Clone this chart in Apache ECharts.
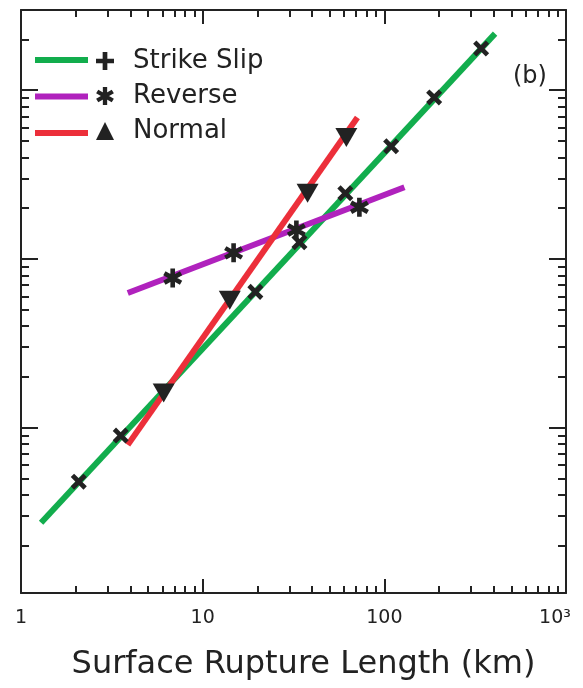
<!DOCTYPE html>
<html>
<head>
<meta charset="utf-8">
<script src="https://cdn.jsdelivr.net/npm/echarts@6/dist/echarts.min.js"></script>
<style>
  html, body { margin: 0; padding: 0; background: #fff; }
  #chart { width: 583px; height: 688px; }
</style>
</head>
<body>
<div id="chart"></div>
<script>
// points (x = surface rupture length, km; y = log units of the unlabeled axis)
const strikeSlipX = [2.08, 3.54, 19.5, 34.1, 61, 109, 188, 341];
const strikeSlipY = [4.8, 9.0, 64, 126, 246, 467, 910, 1774];
const strikeFitX = [1.29, 407];
const strikeFitY = [2.74, 2173];

const reverseX = [6.84, 14.8, 32.8, 72.9];
const reverseY = [77.3, 109, 149, 203];
const reverseFitX = [3.87, 129];
const reverseFitY = [63, 267];

const normalX = [6.1, 14.1, 37.8, 61.8];
const normalY = [16.1, 57.1, 246, 527];
const normalFitX = [3.87, 71.1];
const normalFitY = [7.93, 692];

const xLabels = { 1: '1', 10: '10', 100: '100', 1000: '{e|10³}' };
const xMin = 1, xMax = 1000;
const yMin = 1.05, yMax = 3000;

// tick positions in log10 units
function minorLogs(lo, hi) {
  const out = [];
  for (let d = Math.floor(lo); d <= Math.ceil(hi); d++) {
    for (let m = 2; m <= 9; m++) {
      const v = d + Math.log10(m);
      if (v > lo && v < hi) out.push(v);
    }
  }
  return out;
}
function majorLogs(lo, hi) {
  const out = [];
  for (let d = Math.ceil(lo); d <= Math.floor(hi); d++) {
    if (d > lo + 0.01 && d < hi - 0.01) out.push(d);
  }
  return out;
}

const lx0 = Math.log10(xMin), lx1 = Math.log10(xMax);
const ly0 = Math.log10(yMin), ly1 = Math.log10(yMax);

// y ticks in data units: [x anchor, y value, tick length]
const yTicks = [
  ...minorLogs(ly0, ly1).map(v => [xMin, Math.pow(10, v), 8]),
  ...majorLogs(ly0, ly1).map(v => [xMin, Math.pow(10, v), 17])
];

const ink = '#222';
const green = '#12ad4d';
const purple = '#b022bd';
const red = '#ec2f3a';

const plusPath = 'path://M-1.3,-5 L1.3,-5 L1.3,-1.3 L5,-1.3 L5,1.3 L1.3,1.3 L1.3,5 L-1.3,5 L-1.3,1.3 L-5,1.3 L-5,-1.3 L-1.3,-1.3 Z';
const starPath = 'path://M-1.2,-5 L1.2,-5 L1.2,5 L-1.2,5 Z M-4.93,-1.46 L-3.73,-3.54 L4.93,1.46 L3.73,3.54 Z M-3.73,3.54 L-4.93,1.46 L3.73,-3.54 L4.93,-1.46 Z';

function pairs(xs, ys) {
  return xs.map((x, i) => [x, ys[i]]);
}

function tickAxis(pos, lo, hi, values, len, showLine) {
  return {
    type: 'value',
    position: pos,
    min: lo,
    max: hi,
    axisLine: { show: !!showLine, onZero: false, lineStyle: { color: ink, width: 2 } },
    axisTick: { show: !!values, inside: true, length: len, customValues: values, lineStyle: { color: ink, width: 2 } },
    axisLabel: { show: false },
    splitLine: { show: false }
  };
}

const chart = echarts.init(document.getElementById('chart'));

chart.setOption({
  animation: false,
  backgroundColor: '#fff',
  textStyle: { fontFamily: 'DejaVu Sans' },
  title: {
    text: '(b)',
    left: 508,
    top: 60,
    textStyle: { fontSize: 24, fontWeight: 'normal', color: ink, fontFamily: 'DejaVu Sans' }
  },
  grid: { left: 21, right: 17, top: 10, bottom: 95, containLabel: false },
  legend: [
    {
      // coloured line swatches
      data: ['Strike Slip fit', 'Reverse fit', 'Normal fit'],
      orient: 'vertical',
      left: 30,
      top: 52,
      itemWidth: 53,
      itemHeight: 6,
      itemGap: 30.5,
      icon: 'rect',
      formatter: () => '',
      selectedMode: false
    },
    {
      // black markers with names
      data: [
        { name: 'Strike Slip', icon: plusPath },
        { name: 'Reverse', icon: starPath },
        { name: 'Normal', icon: 'triangle' }
      ],
      orient: 'vertical',
      left: 91,
      top: 43,
      itemWidth: 18,
      itemHeight: 18,
      itemGap: 9,
      symbolRotate: 0,
      selectedMode: false,
      textStyle: { fontSize: 26, color: ink, fontFamily: 'DejaVu Sans', padding: [0, 0, 0, 14] }
    }
  ],
  xAxis: [
    {
      type: 'log',
      logBase: 10,
      min: xMin,
      max: xMax,
      position: 'bottom',
      axisLine: { show: true, onZero: false, lineStyle: { color: ink, width: 2 } },
      axisTick: { show: false },
      splitLine: { show: false },
      axisLabel: {
        show: true,
        margin: 16,
        fontSize: 19,
        color: ink,
        fontFamily: 'DejaVu Sans',
        formatter: v => xLabels[Math.round(v)] || '',
        rich: { e: { fontSize: 19, color: ink, fontFamily: 'DejaVu Sans', padding: [0, 22, 0, 0] } }
      },
      name: 'Surface Rupture Length (km)',
      nameLocation: 'middle',
      nameGap: 56,
      nameTextStyle: { fontSize: 32, color: ink, fontFamily: 'DejaVu Sans', padding: [0, 0, 0, 20] }
    },
    tickAxis('bottom', lx0, lx1, minorLogs(lx0, lx1), 7),
    tickAxis('bottom', lx0, lx1, majorLogs(lx0, lx1), 14),
    tickAxis('top', lx0, lx1, minorLogs(lx0, lx1), 7, true),
    tickAxis('top', lx0, lx1, majorLogs(lx0, lx1), 14)
  ],
  yAxis: [
    {
      type: 'log',
      logBase: 10,
      min: yMin,
      max: yMax,
      position: 'left',
      axisLine: { show: true, onZero: false, lineStyle: { color: ink, width: 2 } },
      axisTick: { show: false },
      axisLabel: { show: false },
      splitLine: { show: false }
    },
    tickAxis('right', ly0, ly1, null, 7, true)
  ],
  series: [
    {
      // inward y ticks on both frame sides
      type: 'custom',
      silent: true,
      clip: false,
      z: 1,
      encode: { x: 0, y: 1 },
      data: yTicks,
      renderItem: (params, api) => {
        const v = api.value(1), len = api.value(2);
        const l = api.coord([xMin, v]);
        const r = api.coord([xMax, v]);
        const y = Math.round(l[1]);
        const style = { stroke: ink, lineWidth: 2 };
        return {
          type: 'group',
          children: [
            { type: 'line', shape: { x1: l[0], y1: y, x2: l[0] + len, y2: y }, style },
            { type: 'line', shape: { x1: r[0] - len, y1: y, x2: r[0], y2: y }, style }
          ]
        };
      }
    },
    {
      name: 'Strike Slip fit', type: 'line', data: pairs(strikeFitX, strikeFitY),
      showSymbol: false, symbol: 'none', itemStyle: { color: green },
      lineStyle: { color: green, width: 6, cap: 'butt' }, z: 2
    },
    {
      name: 'Reverse fit', type: 'line', data: pairs(reverseFitX, reverseFitY),
      showSymbol: false, symbol: 'none', itemStyle: { color: purple },
      lineStyle: { color: purple, width: 6, cap: 'butt' }, z: 2
    },
    {
      name: 'Normal fit', type: 'line', data: pairs(normalFitX, normalFitY),
      showSymbol: false, symbol: 'none', itemStyle: { color: red },
      lineStyle: { color: red, width: 6, cap: 'butt' }, z: 2
    },
    {
      name: 'Strike Slip', type: 'scatter', data: pairs(strikeSlipX, strikeSlipY),
      symbol: plusPath, symbolSize: 18, symbolRotate: 45,
      itemStyle: { color: ink, opacity: 1 }, z: 5
    },
    {
      name: 'Reverse', type: 'scatter', data: pairs(reverseX, reverseY),
      symbol: starPath, symbolSize: 19,
      itemStyle: { color: ink, opacity: 1 }, z: 5
    },
    {
      name: 'Normal', type: 'scatter', data: pairs(normalX, normalY),
      symbol: 'triangle', symbolSize: [22, 19], symbolRotate: 180,
      itemStyle: { color: ink, opacity: 1 }, z: 5
    }
  ]
});
</script>
</body>
</html>
